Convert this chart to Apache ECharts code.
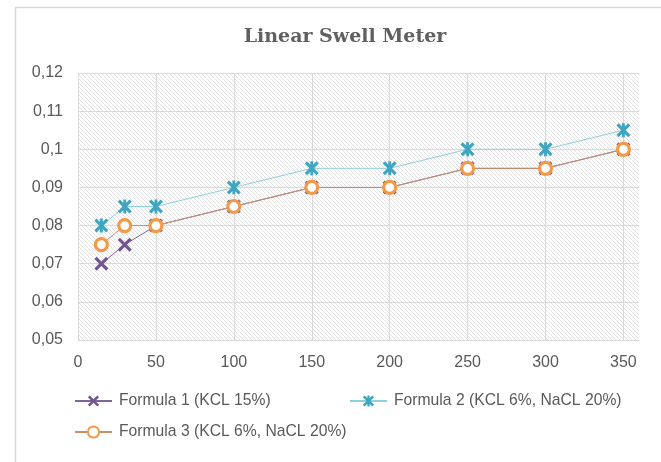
<!DOCTYPE html>
<html>
<head>
<meta charset="utf-8">
<script src="https://cdn.jsdelivr.net/npm/echarts@6/dist/echarts.min.js"></script>
<style>
html,body{margin:0;padding:0;background:#fff;}
#chart{width:661px;height:462px;}
</style>
</head>
<body>
<div id="chart"></div>
<script>
var xValues = [15, 30, 50, 100, 150, 200, 250, 300, 350];
var formula1 = [0.07, 0.075, 0.08, 0.085, 0.09, 0.09, 0.095, 0.095, 0.1];
var formula2 = [0.08, 0.085, 0.085, 0.09, 0.095, 0.095, 0.1, 0.1, 0.105];
var formula3 = [0.075, 0.08, 0.08, 0.085, 0.09, 0.09, 0.095, 0.095, 0.1];
var seriesNames = ['Formula 1 (KCL 15%)', 'Formula 2 (KCL 6%, NaCL 20%)', 'Formula 3 (KCL 6%, NaCL 20%)'];
var titleText = 'Linear Swell Meter';

function pairs(ys) { return xValues.map(function (x, i) { return [x, ys[i]]; }); }

// hatch pattern
var pc = document.createElement('canvas');
pc.width = 4; pc.height = 4;
var g = pc.getContext('2d');
g.fillStyle = '#ffffff'; g.fillRect(0, 0, 4, 4);
g.strokeStyle = '#e2e2e2'; g.lineWidth = 1;
g.beginPath();
g.moveTo(-1, -1); g.lineTo(5, 5);
g.moveTo(-1, 3); g.lineTo(1, 5);
g.moveTo(3, -1); g.lineTo(5, 1);
g.stroke();

var xPath = 'path://M0,1.6 L1.6,0 L5,3.4 L8.4,0 L10,1.6 L6.6,5 L10,8.4 L8.4,10 L5,6.6 L1.6,10 L0,8.4 L3.4,5 Z';
var starPath = 'path://M0,1.6 L1.6,0 L5,3.4 L8.4,0 L10,1.6 L6.6,5 L10,8.4 L8.4,10 L5,6.6 L1.6,10 L0,8.4 L3.4,5 Z M4,0 L6,0 L6,10 L4,10 Z';

var chart = echarts.init(document.getElementById('chart'), null, {renderer: 'canvas'});
var labelFont = {color: '#595959', fontFamily: 'Liberation Sans', fontSize: 16};
var legendText = {color: '#595959', fontFamily: 'Liberation Sans', fontSize: 15.7, padding: [0, 0, 0, 2]};
chart.setOption({
  animation: false,
  backgroundColor: '#ffffff',
  title: {
    text: titleText, left: 340, top: 23, textAlign: 'center',
    textStyle: {fontFamily: 'DejaVu Serif', fontWeight: 'bold', fontSize: 19, color: '#606060'}
  },
  graphic: [{
    type: 'rect', left: 13, top: 5, shape: {width: 700, height: 500},
    style: {fill: 'none', stroke: '#d9d9d9', lineWidth: 1.5}, silent: true
  }],
  grid: {
    left: 78, top: 73, right: 22, bottom: 122, show: true,
    backgroundColor: {image: pc, repeat: 'repeat'}, borderWidth: 0
  },
  legend: [
    {data: [seriesNames[0]], left: 74, top: 393, padding: 0, itemWidth: 37, itemHeight: 14, textStyle: legendText},
    {data: [seriesNames[1]], left: 349, top: 393, padding: 0, itemWidth: 37, itemHeight: 14, textStyle: legendText},
    {data: [seriesNames[2]], left: 74, top: 424, padding: 0, itemWidth: 37, itemHeight: 14, textStyle: legendText}
  ],
  xAxis: {
    type: 'value', min: 0, max: 360, interval: 50,
    axisLine: {show: true, lineStyle: {color: '#d9d9d9'}},
    axisTick: {show: false},
    axisLabel: Object.assign({margin: 15, showMaxLabel: false}, labelFont),
    splitLine: {show: true, showMaxLine: false, lineStyle: {color: '#d9d9d9'}}
  },
  yAxis: {
    type: 'value', min: 0.05, max: 0.12, interval: 0.01,
    axisLine: {show: false}, axisTick: {show: false},
    axisLabel: Object.assign({margin: 15, formatter: function (v) { return String(+v.toFixed(2)).replace('.', ','); }}, labelFont),
    splitLine: {show: true, lineStyle: {color: '#d9d9d9'}}
  },
  series: [
    {name: seriesNames[0], type: 'line', data: pairs(formula1), symbol: xPath, symbolSize: 14,
     lineStyle: {color: '#8064a2', width: 1}, itemStyle: {color: '#72568e'}},
    {name: seriesNames[1], type: 'line', data: pairs(formula2), symbol: starPath, symbolSize: 14,
     lineStyle: {color: '#8fd0e0', width: 1}, itemStyle: {color: '#3ea6c0'}},
    {name: seriesNames[2], type: 'line', data: pairs(formula3), symbol: 'circle', symbolSize: 12,
     lineStyle: {color: '#c8906a', width: 1}, itemStyle: {color: '#ffffff', borderColor: '#f39a4a', borderWidth: 3.2}}
  ]
});
</script>
</body>
</html>
